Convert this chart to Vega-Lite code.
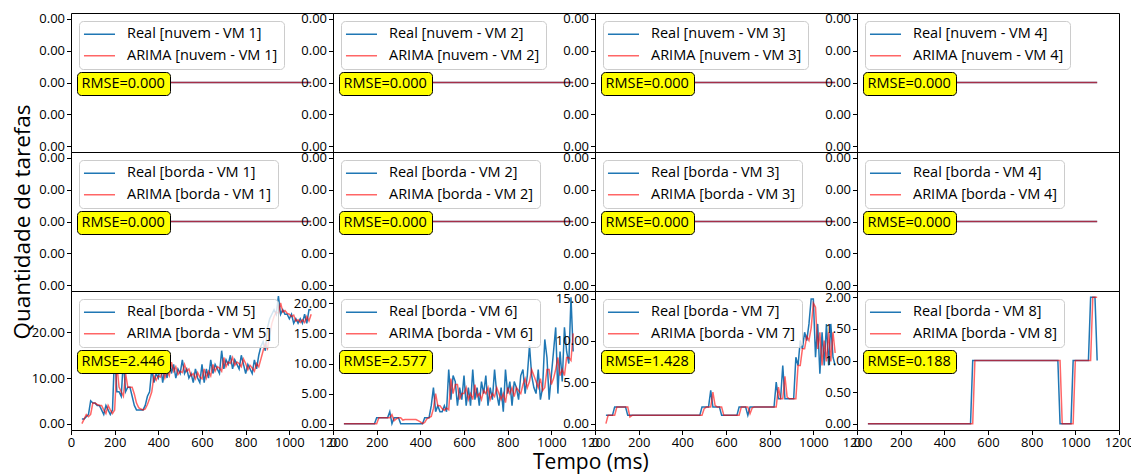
{
"$schema": "https://vega.github.io/schema/vega-lite/v6.json",
"autosize": {"type": "pad"},
"padding": {"left": 11, "top": 12, "right": 16, "bottom": 2},
"columns": 4,
"spacing": 0,
"bounds": "flush",
"title": {"text": "Tempo (ms)", "orient": "bottom", "anchor": "middle", "fontSize": 21, "fontWeight": "normal", "font": "Open Sans", "color": "black", "offset": 2, "dx": 18},
"resolve": {"scale": {"x": "independent", "y": "independent", "color": "independent", "shape": "independent"}, "legend": {"color": "independent", "shape": "independent"}, "axis": {"x": "independent", "y": "independent"}},
"datasets": {
"zero": [{"t":50,"real":0,"arima":0},{"t":100,"real":0,"arima":0},{"t":150,"real":0,"arima":0},{"t":200,"real":0,"arima":0},{"t":250,"real":0,"arima":0},{"t":300,"real":0,"arima":0},{"t":350,"real":0,"arima":0},{"t":400,"real":0,"arima":0},{"t":450,"real":0,"arima":0},{"t":500,"real":0,"arima":0},{"t":550,"real":0,"arima":0},{"t":600,"real":0,"arima":0},{"t":650,"real":0,"arima":0},{"t":700,"real":0,"arima":0},{"t":750,"real":0,"arima":0},{"t":800,"real":0,"arima":0},{"t":850,"real":0,"arima":0},{"t":900,"real":0,"arima":0},{"t":950,"real":0,"arima":0},{"t":1000,"real":0,"arima":0},{"t":1050,"real":0,"arima":0},{"t":1100,"real":0,"arima":0}],
"rmse": [{"vm":"nuvem - VM 1","rmse":0},{"vm":"nuvem - VM 2","rmse":0},{"vm":"nuvem - VM 3","rmse":0},{"vm":"nuvem - VM 4","rmse":0},{"vm":"borda - VM 1","rmse":0},{"vm":"borda - VM 2","rmse":0},{"vm":"borda - VM 3","rmse":0},{"vm":"borda - VM 4","rmse":0},{"vm":"borda - VM 5","rmse":2.446},{"vm":"borda - VM 6","rmse":2.577},{"vm":"borda - VM 7","rmse":1.428},{"vm":"borda - VM 8","rmse":0.188}],
"vm5": [{"t":50,"real":1,"arima":0},{"t":60,"real":1,"arima":1},{"t":70,"real":1.5,"arima":2},{"t":80,"real":2,"arima":1.5},{"t":90,"real":5,"arima":2},{"t":100,"real":4.5,"arima":4.5},{"t":110,"real":4.5,"arima":4.5},{"t":120,"real":4,"arima":4.2},{"t":130,"real":4,"arima":4},{"t":140,"real":3,"arima":4},{"t":150,"real":2,"arima":3},{"t":160,"real":4,"arima":2.2},{"t":170,"real":3,"arima":4},{"t":180,"real":2,"arima":3},{"t":190,"real":3,"arima":2.2},{"t":200,"real":16,"arima":3},{"t":210,"real":7,"arima":13},{"t":220,"real":7,"arima":8},{"t":230,"real":6,"arima":7},{"t":240,"real":14,"arima":6},{"t":250,"real":7,"arima":11},{"t":260,"real":8,"arima":8},{"t":270,"real":8,"arima":8},{"t":280,"real":6,"arima":8},{"t":290,"real":4,"arima":6.5},{"t":300,"real":3,"arima":4.5},{"t":310,"real":3,"arima":3.5},{"t":320,"real":3,"arima":3.2},{"t":330,"real":3,"arima":3},{"t":340,"real":4,"arima":3.2},{"t":350,"real":6,"arima":4.2},{"t":360,"real":7,"arima":5.5},{"t":370,"real":12,"arima":7},{"t":380,"real":9,"arima":10.5},{"t":390,"real":11,"arima":9.5},{"t":400,"real":10,"arima":10.5},{"t":410,"real":13,"arima":10.2},{"t":420,"real":9,"arima":12},{"t":430,"real":12,"arima":10},{"t":440,"real":10,"arima":11.5},{"t":450,"real":15,"arima":10.5},{"t":460,"real":11,"arima":13.5},{"t":470,"real":13,"arima":11.5},{"t":480,"real":10,"arima":12.5},{"t":490,"real":12,"arima":10.8},{"t":500,"real":11,"arima":11.5},{"t":510,"real":14,"arima":11.2},{"t":520,"real":11,"arima":13},{"t":530,"real":12,"arima":11.5},{"t":540,"real":10,"arima":12},{"t":550,"real":11,"arima":10.5},{"t":560,"real":9,"arima":11},{"t":570,"real":12,"arima":9.8},{"t":580,"real":10,"arima":11.2},{"t":590,"real":9,"arima":10.2},{"t":600,"real":13,"arima":9.8},{"t":610,"real":9,"arima":12},{"t":620,"real":12,"arima":10},{"t":630,"real":10,"arima":11.5},{"t":640,"real":14,"arima":10.5},{"t":650,"real":11,"arima":13},{"t":660,"real":13,"arima":11.5},{"t":670,"real":12,"arima":12.5},{"t":680,"real":11,"arima":12.2},{"t":690,"real":16,"arima":11.5},{"t":700,"real":12,"arima":14.5},{"t":710,"real":14,"arima":12.5},{"t":720,"real":13,"arima":13.5},{"t":730,"real":15,"arima":13.2},{"t":740,"real":12,"arima":14.5},{"t":750,"real":14,"arima":12.8},{"t":760,"real":13,"arima":13.5},{"t":770,"real":12,"arima":13.2},{"t":780,"real":15,"arima":12.5},{"t":790,"real":13,"arima":14.2},{"t":800,"real":11,"arima":13.2},{"t":810,"real":13,"arima":11.8},{"t":820,"real":12,"arima":12.8},{"t":830,"real":11,"arima":12.2},{"t":840,"real":14,"arima":11.5},{"t":850,"real":12,"arima":13.2},{"t":860,"real":15,"arima":12.5},{"t":870,"real":17,"arima":14.2},{"t":880,"real":18,"arima":16},{"t":890,"real":16,"arima":17.5},{"t":900,"real":21,"arima":16.5},{"t":910,"real":23,"arima":19.5},{"t":920,"real":24,"arima":22},{"t":930,"real":25,"arima":23.5},{"t":940,"real":24,"arima":24.5},{"t":950,"real":28,"arima":24.2},{"t":960,"real":24,"arima":26.5},{"t":970,"real":25,"arima":24.5},{"t":980,"real":24,"arima":24.8},{"t":990,"real":24,"arima":24.2},{"t":1000,"real":23,"arima":24},{"t":1010,"real":24,"arima":23.5},{"t":1020,"real":22,"arima":23.8},{"t":1030,"real":23,"arima":22.5},{"t":1040,"real":22,"arima":22.8},{"t":1050,"real":23,"arima":22.2},{"t":1060,"real":22,"arima":22.8},{"t":1070,"real":24,"arima":22.2},{"t":1080,"real":22,"arima":23.5},{"t":1090,"real":25,"arima":22.5},{"t":1100,"real":25,"arima":24}],
"vm6": [{"t":50,"real":0,"arima":0},{"t":60,"real":0,"arima":0},{"t":70,"real":0,"arima":0},{"t":80,"real":0,"arima":0},{"t":90,"real":0,"arima":0},{"t":100,"real":0,"arima":0},{"t":110,"real":0,"arima":0},{"t":120,"real":0,"arima":0},{"t":130,"real":0,"arima":0},{"t":140,"real":0,"arima":0},{"t":150,"real":0,"arima":0},{"t":160,"real":0,"arima":0},{"t":170,"real":0,"arima":0},{"t":180,"real":0,"arima":0},{"t":190,"real":0,"arima":0},{"t":200,"real":1,"arima":0},{"t":210,"real":1,"arima":1},{"t":220,"real":1,"arima":1},{"t":230,"real":1,"arima":1},{"t":240,"real":1,"arima":1},{"t":250,"real":1,"arima":1},{"t":260,"real":2,"arima":1},{"t":270,"real":0,"arima":1.5},{"t":280,"real":1,"arima":0.5},{"t":290,"real":1,"arima":0.8},{"t":300,"real":1,"arima":1},{"t":310,"real":0,"arima":1},{"t":320,"real":0,"arima":0.6},{"t":330,"real":0,"arima":0.7},{"t":340,"real":0,"arima":0.7},{"t":350,"real":0,"arima":0.7},{"t":360,"real":0,"arima":0.7},{"t":370,"real":0,"arima":0.7},{"t":380,"real":0,"arima":0.7},{"t":390,"real":0,"arima":0.5},{"t":400,"real":0,"arima":0.3},{"t":410,"real":0,"arima":0},{"t":420,"real":1,"arima":0.2},{"t":430,"real":1,"arima":0.8},{"t":440,"real":1,"arima":1},{"t":450,"real":3,"arima":1.2},{"t":460,"real":6,"arima":2.5},{"t":470,"real":2,"arima":5},{"t":480,"real":3,"arima":3},{"t":490,"real":2,"arima":3},{"t":500,"real":2,"arima":2.5},{"t":510,"real":3,"arima":2.2},{"t":520,"real":2,"arima":2.6},{"t":530,"real":9,"arima":2.3},{"t":540,"real":4,"arima":7.5},{"t":550,"real":8,"arima":5},{"t":560,"real":7,"arima":6.5},{"t":570,"real":3,"arima":6.5},{"t":580,"real":6,"arima":4},{"t":590,"real":4,"arima":5},{"t":600,"real":8,"arima":5},{"t":610,"real":3,"arima":6},{"t":620,"real":6,"arima":4},{"t":630,"real":3,"arima":5},{"t":640,"real":9,"arima":4},{"t":650,"real":4,"arima":6.5},{"t":660,"real":6,"arima":4.5},{"t":670,"real":3,"arima":5},{"t":680,"real":7,"arima":4},{"t":690,"real":5,"arima":5.5},{"t":700,"real":8,"arima":5},{"t":710,"real":3,"arima":6},{"t":720,"real":6,"arima":4},{"t":730,"real":4,"arima":5},{"t":740,"real":9,"arima":4.5},{"t":750,"real":5,"arima":6},{"t":760,"real":3,"arima":5},{"t":770,"real":6,"arima":4},{"t":780,"real":2,"arima":5},{"t":790,"real":9,"arima":3.5},{"t":800,"real":5,"arima":6},{"t":810,"real":7,"arima":5},{"t":820,"real":3,"arima":6},{"t":830,"real":7,"arima":4.5},{"t":840,"real":6,"arima":6},{"t":850,"real":4,"arima":5.5},{"t":860,"real":8,"arima":5},{"t":870,"real":9,"arima":6.5},{"t":880,"real":5,"arima":7.5},{"t":890,"real":8,"arima":6},{"t":900,"real":13,"arima":7},{"t":910,"real":8,"arima":9},{"t":920,"real":6,"arima":8},{"t":930,"real":5,"arima":7},{"t":940,"real":9,"arima":6},{"t":950,"real":4,"arima":7.5},{"t":960,"real":6,"arima":5.5},{"t":970,"real":14,"arima":6},{"t":980,"real":11,"arima":9},{"t":990,"real":4,"arima":9},{"t":1000,"real":8,"arima":6.5},{"t":1010,"real":12,"arima":7.5},{"t":1020,"real":16,"arima":9},{"t":1030,"real":5,"arima":11},{"t":1040,"real":12,"arima":8},{"t":1050,"real":7,"arima":9},{"t":1060,"real":16,"arima":8},{"t":1070,"real":12,"arima":11},{"t":1080,"real":10,"arima":11},{"t":1090,"real":21,"arima":10.5},{"t":1100,"real":12,"arima":15}],
"vm7": [{"t":50,"real":1,"arima":0},{"t":60,"real":1,"arima":1},{"t":70,"real":1,"arima":1},{"t":80,"real":1,"arima":1},{"t":90,"real":2,"arima":1},{"t":100,"real":2,"arima":2},{"t":110,"real":2,"arima":2},{"t":120,"real":2,"arima":2},{"t":130,"real":2,"arima":2},{"t":140,"real":2,"arima":2},{"t":150,"real":1,"arima":2},{"t":160,"real":1,"arima":0.8},{"t":170,"real":1,"arima":1},{"t":180,"real":1,"arima":1},{"t":190,"real":1,"arima":1},{"t":200,"real":1,"arima":1},{"t":210,"real":1,"arima":1},{"t":220,"real":1,"arima":1},{"t":230,"real":1,"arima":1},{"t":240,"real":1,"arima":1},{"t":250,"real":1,"arima":1},{"t":260,"real":1,"arima":1},{"t":270,"real":1,"arima":1},{"t":280,"real":1,"arima":1},{"t":290,"real":1,"arima":1},{"t":300,"real":1,"arima":1},{"t":310,"real":1,"arima":1},{"t":320,"real":1,"arima":1},{"t":330,"real":1,"arima":1},{"t":340,"real":1,"arima":1},{"t":350,"real":1,"arima":1},{"t":360,"real":1,"arima":1},{"t":370,"real":1,"arima":1},{"t":380,"real":1,"arima":1},{"t":390,"real":1,"arima":1},{"t":400,"real":1,"arima":1},{"t":410,"real":1,"arima":1},{"t":420,"real":1,"arima":1},{"t":430,"real":1,"arima":1},{"t":440,"real":1,"arima":1},{"t":450,"real":1,"arima":1},{"t":460,"real":1,"arima":1},{"t":470,"real":1,"arima":1},{"t":480,"real":1,"arima":1},{"t":490,"real":2,"arima":1},{"t":500,"real":2,"arima":1.8},{"t":510,"real":2,"arima":2},{"t":520,"real":2,"arima":2},{"t":530,"real":4,"arima":2},{"t":540,"real":2,"arima":3.8},{"t":550,"real":2,"arima":2.2},{"t":560,"real":2,"arima":2},{"t":570,"real":2,"arima":2},{"t":580,"real":1,"arima":2},{"t":590,"real":1,"arima":1},{"t":600,"real":1,"arima":1},{"t":610,"real":1,"arima":1},{"t":620,"real":1,"arima":1},{"t":630,"real":1,"arima":1},{"t":640,"real":1,"arima":1},{"t":650,"real":1,"arima":1},{"t":660,"real":2,"arima":1},{"t":670,"real":2,"arima":2},{"t":680,"real":2,"arima":2},{"t":690,"real":2,"arima":2},{"t":700,"real":1,"arima":2},{"t":710,"real":2,"arima":1.2},{"t":720,"real":2,"arima":1.9},{"t":730,"real":2,"arima":2},{"t":740,"real":2,"arima":2},{"t":750,"real":2,"arima":2},{"t":760,"real":2,"arima":2},{"t":770,"real":2,"arima":2},{"t":780,"real":2,"arima":2},{"t":790,"real":2,"arima":2},{"t":800,"real":2,"arima":2},{"t":810,"real":2,"arima":2},{"t":820,"real":2,"arima":2},{"t":830,"real":5,"arima":2},{"t":840,"real":3,"arima":4.4},{"t":850,"real":3,"arima":3},{"t":860,"real":7,"arima":3},{"t":870,"real":3,"arima":5.7},{"t":880,"real":3,"arima":3.2},{"t":890,"real":3,"arima":3},{"t":900,"real":3,"arima":3},{"t":910,"real":3,"arima":3},{"t":920,"real":8,"arima":3},{"t":930,"real":7,"arima":7},{"t":940,"real":10,"arima":7},{"t":950,"real":9,"arima":9},{"t":960,"real":11,"arima":9},{"t":970,"real":10,"arima":10.5},{"t":980,"real":12,"arima":10},{"t":990,"real":15,"arima":11.5},{"t":1000,"real":15,"arima":14.5},{"t":1010,"real":8,"arima":14},{"t":1020,"real":12,"arima":9},{"t":1030,"real":6,"arima":11},{"t":1040,"real":11,"arima":7},{"t":1050,"real":7,"arima":10},{"t":1060,"real":12,"arima":7.5},{"t":1070,"real":7,"arima":11},{"t":1080,"real":12,"arima":7.5},{"t":1090,"real":8,"arima":11},{"t":1100,"real":7,"arima":8.5}],
"vm8": [{"t":50,"real":0,"arima":0},{"t":60,"real":0,"arima":0},{"t":70,"real":0,"arima":0},{"t":80,"real":0,"arima":0},{"t":90,"real":0,"arima":0},{"t":100,"real":0,"arima":0},{"t":110,"real":0,"arima":0},{"t":120,"real":0,"arima":0},{"t":130,"real":0,"arima":0},{"t":140,"real":0,"arima":0},{"t":150,"real":0,"arima":0},{"t":160,"real":0,"arima":0},{"t":170,"real":0,"arima":0},{"t":180,"real":0,"arima":0},{"t":190,"real":0,"arima":0},{"t":200,"real":0,"arima":0},{"t":210,"real":0,"arima":0},{"t":220,"real":0,"arima":0},{"t":230,"real":0,"arima":0},{"t":240,"real":0,"arima":0},{"t":250,"real":0,"arima":0},{"t":260,"real":0,"arima":0},{"t":270,"real":0,"arima":0},{"t":280,"real":0,"arima":0},{"t":290,"real":0,"arima":0},{"t":300,"real":0,"arima":0},{"t":310,"real":0,"arima":0},{"t":320,"real":0,"arima":0},{"t":330,"real":0,"arima":0},{"t":340,"real":0,"arima":0},{"t":350,"real":0,"arima":0},{"t":360,"real":0,"arima":0},{"t":370,"real":0,"arima":0},{"t":380,"real":0,"arima":0},{"t":390,"real":0,"arima":0},{"t":400,"real":0,"arima":0},{"t":410,"real":0,"arima":0},{"t":420,"real":0,"arima":0},{"t":430,"real":0,"arima":0},{"t":440,"real":0,"arima":0},{"t":450,"real":0,"arima":0},{"t":460,"real":0,"arima":0},{"t":470,"real":0,"arima":0},{"t":480,"real":0,"arima":0},{"t":490,"real":0,"arima":0},{"t":500,"real":0,"arima":0},{"t":510,"real":0,"arima":0},{"t":520,"real":0,"arima":0},{"t":530,"real":1,"arima":0},{"t":540,"real":1,"arima":1},{"t":550,"real":1,"arima":1},{"t":560,"real":1,"arima":1},{"t":570,"real":1,"arima":1},{"t":580,"real":1,"arima":1},{"t":590,"real":1,"arima":1},{"t":600,"real":1,"arima":1},{"t":610,"real":1,"arima":1},{"t":620,"real":1,"arima":1},{"t":630,"real":1,"arima":1},{"t":640,"real":1,"arima":1},{"t":650,"real":1,"arima":1},{"t":660,"real":1,"arima":1},{"t":670,"real":1,"arima":1},{"t":680,"real":1,"arima":1},{"t":690,"real":1,"arima":1},{"t":700,"real":1,"arima":1},{"t":710,"real":1,"arima":1},{"t":720,"real":1,"arima":1},{"t":730,"real":1,"arima":1},{"t":740,"real":1,"arima":1},{"t":750,"real":1,"arima":1},{"t":760,"real":1,"arima":1},{"t":770,"real":1,"arima":1},{"t":780,"real":1,"arima":1},{"t":790,"real":1,"arima":1},{"t":800,"real":1,"arima":1},{"t":810,"real":1,"arima":1},{"t":820,"real":1,"arima":1},{"t":830,"real":1,"arima":1},{"t":840,"real":1,"arima":1},{"t":850,"real":1,"arima":1},{"t":860,"real":1,"arima":1},{"t":870,"real":1,"arima":1},{"t":880,"real":1,"arima":1},{"t":890,"real":1,"arima":1},{"t":900,"real":1,"arima":1},{"t":910,"real":1,"arima":1},{"t":920,"real":1,"arima":1},{"t":930,"real":0,"arima":1},{"t":940,"real":0,"arima":0},{"t":950,"real":0,"arima":0},{"t":960,"real":0,"arima":0},{"t":970,"real":0,"arima":0},{"t":980,"real":0,"arima":0},{"t":990,"real":1,"arima":0},{"t":1000,"real":1,"arima":1},{"t":1010,"real":1,"arima":1},{"t":1020,"real":1,"arima":1},{"t":1030,"real":1,"arima":1},{"t":1040,"real":1,"arima":1},{"t":1050,"real":1,"arima":1},{"t":1060,"real":1,"arima":1},{"t":1070,"real":2,"arima":1},{"t":1080,"real":2,"arima":2},{"t":1090,"real":2,"arima":2},{"t":1100,"real":1,"arima":2}]
},
"concat": [
{"width":262,"height":139,"layer":[
 {"data":{"name":"zero"},"transform":[{"fold":["real","arima"],"as":["serie","v"]}],"mark":{"type":"line","strokeWidth":1.5},
  "encoding":{"x":{"field":"t","type":"quantitative","scale":{"domain":[0,1200],"nice":false},"axis":null},
   "y":{"field":"v","type":"quantitative","scale":{"domain":[-0.0437,0.0437],"nice":false,"zero":false},"axis":{"values":[-0.04,-0.02,0,0.02,0.04],"labelExpr":"'0.00'","title":null}},
   "color":{"field":"serie","type":"nominal","scale":{"domain":["real","arima"],"range":["#1f77b4","rgba(255,0,0,0.6)"]},"legend":{"title":null,"orient":"none","legendX":8,"legendY":8,"labelExpr":"datum.label=='real'?'Real [nuvem - VM 1]':'ARIMA [nuvem - VM 1]'"}}}},
 {"data":{"name":"rmse"},"transform":[{"filter":"datum.vm=='nuvem - VM 1'"}],"mark":{"type":"point","opacity":0},
  "encoding":{"shape":{"field":"rmse","type":"nominal","legend":{"title":null,"orient":"none","legendX":6,"legendY":59,"fillColor":"#ffff00","strokeColor":"black","symbolSize":0,"symbolStrokeWidth":0,"labelOffset":-14.5,"padding":4.5,"labelExpr":"'RMSE='+format(datum.value,'.3f')"}}}}]},
{"width":262,"height":139,"layer":[
 {"data":{"name":"zero"},"transform":[{"fold":["real","arima"],"as":["serie","v"]}],"mark":{"type":"line","strokeWidth":1.5},
  "encoding":{"x":{"field":"t","type":"quantitative","scale":{"domain":[0,1200],"nice":false},"axis":null},
   "y":{"field":"v","type":"quantitative","scale":{"domain":[-0.0437,0.0437],"nice":false,"zero":false},"axis":{"values":[-0.04,-0.02,0,0.02,0.04],"labelExpr":"'0.00'","title":null}},
   "color":{"field":"serie","type":"nominal","scale":{"domain":["real","arima"],"range":["#1f77b4","rgba(255,0,0,0.6)"]},"legend":{"title":null,"orient":"none","legendX":8,"legendY":8,"labelExpr":"datum.label=='real'?'Real [nuvem - VM 2]':'ARIMA [nuvem - VM 2]'"}}}},
 {"data":{"name":"rmse"},"transform":[{"filter":"datum.vm=='nuvem - VM 2'"}],"mark":{"type":"point","opacity":0},
  "encoding":{"shape":{"field":"rmse","type":"nominal","legend":{"title":null,"orient":"none","legendX":6,"legendY":59,"fillColor":"#ffff00","strokeColor":"black","symbolSize":0,"symbolStrokeWidth":0,"labelOffset":-14.5,"padding":4.5,"labelExpr":"'RMSE='+format(datum.value,'.3f')"}}}}]},
{"width":262,"height":139,"layer":[
 {"data":{"name":"zero"},"transform":[{"fold":["real","arima"],"as":["serie","v"]}],"mark":{"type":"line","strokeWidth":1.5},
  "encoding":{"x":{"field":"t","type":"quantitative","scale":{"domain":[0,1200],"nice":false},"axis":null},
   "y":{"field":"v","type":"quantitative","scale":{"domain":[-0.0437,0.0437],"nice":false,"zero":false},"axis":{"values":[-0.04,-0.02,0,0.02,0.04],"labelExpr":"'0.00'","title":null}},
   "color":{"field":"serie","type":"nominal","scale":{"domain":["real","arima"],"range":["#1f77b4","rgba(255,0,0,0.6)"]},"legend":{"title":null,"orient":"none","legendX":8,"legendY":8,"labelExpr":"datum.label=='real'?'Real [nuvem - VM 3]':'ARIMA [nuvem - VM 3]'"}}}},
 {"data":{"name":"rmse"},"transform":[{"filter":"datum.vm=='nuvem - VM 3'"}],"mark":{"type":"point","opacity":0},
  "encoding":{"shape":{"field":"rmse","type":"nominal","legend":{"title":null,"orient":"none","legendX":6,"legendY":59,"fillColor":"#ffff00","strokeColor":"black","symbolSize":0,"symbolStrokeWidth":0,"labelOffset":-14.5,"padding":4.5,"labelExpr":"'RMSE='+format(datum.value,'.3f')"}}}}]},
{"width":262,"height":139,"layer":[
 {"data":{"name":"zero"},"transform":[{"fold":["real","arima"],"as":["serie","v"]}],"mark":{"type":"line","strokeWidth":1.5},
  "encoding":{"x":{"field":"t","type":"quantitative","scale":{"domain":[0,1200],"nice":false},"axis":null},
   "y":{"field":"v","type":"quantitative","scale":{"domain":[-0.0437,0.0437],"nice":false,"zero":false},"axis":{"values":[-0.04,-0.02,0,0.02,0.04],"labelExpr":"'0.00'","title":null}},
   "color":{"field":"serie","type":"nominal","scale":{"domain":["real","arima"],"range":["#1f77b4","rgba(255,0,0,0.6)"]},"legend":{"title":null,"orient":"none","legendX":8,"legendY":8,"labelExpr":"datum.label=='real'?'Real [nuvem - VM 4]':'ARIMA [nuvem - VM 4]'"}}}},
 {"data":{"name":"rmse"},"transform":[{"filter":"datum.vm=='nuvem - VM 4'"}],"mark":{"type":"point","opacity":0},
  "encoding":{"shape":{"field":"rmse","type":"nominal","legend":{"title":null,"orient":"none","legendX":6,"legendY":59,"fillColor":"#ffff00","strokeColor":"black","symbolSize":0,"symbolStrokeWidth":0,"labelOffset":-14.5,"padding":4.5,"labelExpr":"'RMSE='+format(datum.value,'.3f')"}}}}]},
{"width":262,"height":139,"layer":[
 {"data":{"name":"zero"},"transform":[{"fold":["real","arima"],"as":["serie","v"]}],"mark":{"type":"line","strokeWidth":1.5},
  "encoding":{"x":{"field":"t","type":"quantitative","scale":{"domain":[0,1200],"nice":false},"axis":null},
   "y":{"field":"v","type":"quantitative","scale":{"domain":[-0.0437,0.0437],"nice":false,"zero":false},"axis":{"values":[-0.04,-0.02,0,0.02,0.04],"labelExpr":"'0.00'","title":"Quantidade de tarefas","titleFontSize":22.5,"titleFontWeight":"normal","titlePadding":4}},
   "color":{"field":"serie","type":"nominal","scale":{"domain":["real","arima"],"range":["#1f77b4","rgba(255,0,0,0.6)"]},"legend":{"title":null,"orient":"none","legendX":8,"legendY":8,"labelExpr":"datum.label=='real'?'Real [borda - VM 1]':'ARIMA [borda - VM 1]'"}}}},
 {"data":{"name":"rmse"},"transform":[{"filter":"datum.vm=='borda - VM 1'"}],"mark":{"type":"point","opacity":0},
  "encoding":{"shape":{"field":"rmse","type":"nominal","legend":{"title":null,"orient":"none","legendX":6,"legendY":59,"fillColor":"#ffff00","strokeColor":"black","symbolSize":0,"symbolStrokeWidth":0,"labelOffset":-14.5,"padding":4.5,"labelExpr":"'RMSE='+format(datum.value,'.3f')"}}}}]},
{"width":262,"height":139,"layer":[
 {"data":{"name":"zero"},"transform":[{"fold":["real","arima"],"as":["serie","v"]}],"mark":{"type":"line","strokeWidth":1.5},
  "encoding":{"x":{"field":"t","type":"quantitative","scale":{"domain":[0,1200],"nice":false},"axis":null},
   "y":{"field":"v","type":"quantitative","scale":{"domain":[-0.0437,0.0437],"nice":false,"zero":false},"axis":{"values":[-0.04,-0.02,0,0.02,0.04],"labelExpr":"'0.00'","title":null}},
   "color":{"field":"serie","type":"nominal","scale":{"domain":["real","arima"],"range":["#1f77b4","rgba(255,0,0,0.6)"]},"legend":{"title":null,"orient":"none","legendX":8,"legendY":8,"labelExpr":"datum.label=='real'?'Real [borda - VM 2]':'ARIMA [borda - VM 2]'"}}}},
 {"data":{"name":"rmse"},"transform":[{"filter":"datum.vm=='borda - VM 2'"}],"mark":{"type":"point","opacity":0},
  "encoding":{"shape":{"field":"rmse","type":"nominal","legend":{"title":null,"orient":"none","legendX":6,"legendY":59,"fillColor":"#ffff00","strokeColor":"black","symbolSize":0,"symbolStrokeWidth":0,"labelOffset":-14.5,"padding":4.5,"labelExpr":"'RMSE='+format(datum.value,'.3f')"}}}}]},
{"width":262,"height":139,"layer":[
 {"data":{"name":"zero"},"transform":[{"fold":["real","arima"],"as":["serie","v"]}],"mark":{"type":"line","strokeWidth":1.5},
  "encoding":{"x":{"field":"t","type":"quantitative","scale":{"domain":[0,1200],"nice":false},"axis":null},
   "y":{"field":"v","type":"quantitative","scale":{"domain":[-0.0437,0.0437],"nice":false,"zero":false},"axis":{"values":[-0.04,-0.02,0,0.02,0.04],"labelExpr":"'0.00'","title":null}},
   "color":{"field":"serie","type":"nominal","scale":{"domain":["real","arima"],"range":["#1f77b4","rgba(255,0,0,0.6)"]},"legend":{"title":null,"orient":"none","legendX":8,"legendY":8,"labelExpr":"datum.label=='real'?'Real [borda - VM 3]':'ARIMA [borda - VM 3]'"}}}},
 {"data":{"name":"rmse"},"transform":[{"filter":"datum.vm=='borda - VM 3'"}],"mark":{"type":"point","opacity":0},
  "encoding":{"shape":{"field":"rmse","type":"nominal","legend":{"title":null,"orient":"none","legendX":6,"legendY":59,"fillColor":"#ffff00","strokeColor":"black","symbolSize":0,"symbolStrokeWidth":0,"labelOffset":-14.5,"padding":4.5,"labelExpr":"'RMSE='+format(datum.value,'.3f')"}}}}]},
{"width":262,"height":139,"layer":[
 {"data":{"name":"zero"},"transform":[{"fold":["real","arima"],"as":["serie","v"]}],"mark":{"type":"line","strokeWidth":1.5},
  "encoding":{"x":{"field":"t","type":"quantitative","scale":{"domain":[0,1200],"nice":false},"axis":null},
   "y":{"field":"v","type":"quantitative","scale":{"domain":[-0.0437,0.0437],"nice":false,"zero":false},"axis":{"values":[-0.04,-0.02,0,0.02,0.04],"labelExpr":"'0.00'","title":null}},
   "color":{"field":"serie","type":"nominal","scale":{"domain":["real","arima"],"range":["#1f77b4","rgba(255,0,0,0.6)"]},"legend":{"title":null,"orient":"none","legendX":8,"legendY":8,"labelExpr":"datum.label=='real'?'Real [borda - VM 4]':'ARIMA [borda - VM 4]'"}}}},
 {"data":{"name":"rmse"},"transform":[{"filter":"datum.vm=='borda - VM 4'"}],"mark":{"type":"point","opacity":0},
  "encoding":{"shape":{"field":"rmse","type":"nominal","legend":{"title":null,"orient":"none","legendX":6,"legendY":59,"fillColor":"#ffff00","strokeColor":"black","symbolSize":0,"symbolStrokeWidth":0,"labelOffset":-14.5,"padding":4.5,"labelExpr":"'RMSE='+format(datum.value,'.3f')"}}}}]},
{"width":262,"height":139,"layer":[
 {"data":{"name":"vm5"},"transform":[{"fold":["real","arima"],"as":["serie","v"]}],"mark":{"type":"line","strokeWidth":1.5},
  "encoding":{"x":{"field":"t","type":"quantitative","scale":{"domain":[0,1200],"nice":false},"axis":{"values":[0,200,400,600,800,1000,1200],"format":"d","title":null}},
   "y":{"field":"v","type":"quantitative","scale":{"domain":[-1.4,29.1],"nice":false,"zero":false},"axis":{"values":[0,10,20],"format":".2f","title":null}},
   "color":{"field":"serie","type":"nominal","scale":{"domain":["real","arima"],"range":["#1f77b4","rgba(255,0,0,0.6)"]},"legend":{"title":null,"orient":"none","legendX":8,"legendY":8,"labelExpr":"datum.label=='real'?'Real [borda - VM 5]':'ARIMA [borda - VM 5]'"}}}},
 {"data":{"name":"rmse"},"transform":[{"filter":"datum.vm=='borda - VM 5'"}],"mark":{"type":"point","opacity":0},
  "encoding":{"shape":{"field":"rmse","type":"nominal","legend":{"title":null,"orient":"none","legendX":6,"legendY":59,"fillColor":"#ffff00","strokeColor":"black","symbolSize":0,"symbolStrokeWidth":0,"labelOffset":-14.5,"padding":4.5,"labelExpr":"'RMSE='+format(datum.value,'.3f')"}}}}]},
{"width":262,"height":139,"layer":[
 {"data":{"name":"vm6"},"transform":[{"fold":["real","arima"],"as":["serie","v"]}],"mark":{"type":"line","strokeWidth":1.5},
  "encoding":{"x":{"field":"t","type":"quantitative","scale":{"domain":[0,1200],"nice":false},"axis":{"values":[0,200,400,600,800,1000,1200],"format":"d","title":null}},
   "y":{"field":"v","type":"quantitative","scale":{"domain":[-1.05,22.05],"nice":false,"zero":false},"axis":{"values":[0,5,10,15,20],"format":".2f","title":null}},
   "color":{"field":"serie","type":"nominal","scale":{"domain":["real","arima"],"range":["#1f77b4","rgba(255,0,0,0.6)"]},"legend":{"title":null,"orient":"none","legendX":8,"legendY":8,"labelExpr":"datum.label=='real'?'Real [borda - VM 6]':'ARIMA [borda - VM 6]'"}}}},
 {"data":{"name":"rmse"},"transform":[{"filter":"datum.vm=='borda - VM 6'"}],"mark":{"type":"point","opacity":0},
  "encoding":{"shape":{"field":"rmse","type":"nominal","legend":{"title":null,"orient":"none","legendX":6,"legendY":59,"fillColor":"#ffff00","strokeColor":"black","symbolSize":0,"symbolStrokeWidth":0,"labelOffset":-14.5,"padding":4.5,"labelExpr":"'RMSE='+format(datum.value,'.3f')"}}}}]},
{"width":262,"height":139,"layer":[
 {"data":{"name":"vm7"},"transform":[{"fold":["real","arima"],"as":["serie","v"]}],"mark":{"type":"line","strokeWidth":1.5},
  "encoding":{"x":{"field":"t","type":"quantitative","scale":{"domain":[0,1200],"nice":false},"axis":{"values":[0,200,400,600,800,1000,1200],"format":"d","title":null}},
   "y":{"field":"v","type":"quantitative","scale":{"domain":[-0.76,15.96],"nice":false,"zero":false},"axis":{"values":[0,5,10,15],"format":".2f","title":null}},
   "color":{"field":"serie","type":"nominal","scale":{"domain":["real","arima"],"range":["#1f77b4","rgba(255,0,0,0.6)"]},"legend":{"title":null,"orient":"none","legendX":8,"legendY":8,"labelExpr":"datum.label=='real'?'Real [borda - VM 7]':'ARIMA [borda - VM 7]'"}}}},
 {"data":{"name":"rmse"},"transform":[{"filter":"datum.vm=='borda - VM 7'"}],"mark":{"type":"point","opacity":0},
  "encoding":{"shape":{"field":"rmse","type":"nominal","legend":{"title":null,"orient":"none","legendX":6,"legendY":59,"fillColor":"#ffff00","strokeColor":"black","symbolSize":0,"symbolStrokeWidth":0,"labelOffset":-14.5,"padding":4.5,"labelExpr":"'RMSE='+format(datum.value,'.3f')"}}}}]},
{"width":262,"height":139,"layer":[
 {"data":{"name":"vm8"},"transform":[{"fold":["real","arima"],"as":["serie","v"]}],"mark":{"type":"line","strokeWidth":1.5},
  "encoding":{"x":{"field":"t","type":"quantitative","scale":{"domain":[0,1200],"nice":false},"axis":{"values":[0,200,400,600,800,1000,1200],"format":"d","title":null}},
   "y":{"field":"v","type":"quantitative","scale":{"domain":[-0.1,2.1],"nice":false,"zero":false},"axis":{"values":[0,0.5,1,1.5,2],"format":".2f","title":null}},
   "color":{"field":"serie","type":"nominal","scale":{"domain":["real","arima"],"range":["#1f77b4","rgba(255,0,0,0.6)"]},"legend":{"title":null,"orient":"none","legendX":8,"legendY":8,"labelExpr":"datum.label=='real'?'Real [borda - VM 8]':'ARIMA [borda - VM 8]'"}}}},
 {"data":{"name":"rmse"},"transform":[{"filter":"datum.vm=='borda - VM 8'"}],"mark":{"type":"point","opacity":0},
  "encoding":{"shape":{"field":"rmse","type":"nominal","legend":{"title":null,"orient":"none","legendX":6,"legendY":59,"fillColor":"#ffff00","strokeColor":"black","symbolSize":0,"symbolStrokeWidth":0,"labelOffset":-14.5,"padding":4.5,"labelExpr":"'RMSE='+format(datum.value,'.3f')"}}}}]}
],
"config": {
 "font": "Open Sans",
 "view": {"stroke": "black", "strokeWidth": 1},
 "axis": {"domain": false, "grid": false, "tickColor": "black", "tickSize": 4.5, "tickWidth": 1, "labelColor": "black", "labelFont": "Open Sans", "labelFontSize": 13, "labelPadding": 2, "labelFlush": false, "labelOverlap": false, "titleFont": "Open Sans", "titleColor": "black"},
 "legend": {"labelFont": "Open Sans", "labelFontSize": 14.5, "labelColor": "black", "labelLimit": 400, "fillColor": "rgba(255,255,255,0.8)", "strokeColor": "#cccccc", "cornerRadius": 4, "padding": 6, "rowPadding": 6.5, "symbolType": "M-1.6,0H4.4", "symbolSize": 107, "symbolStrokeWidth": 1.5, "labelOffset": 27.5}
}
}
